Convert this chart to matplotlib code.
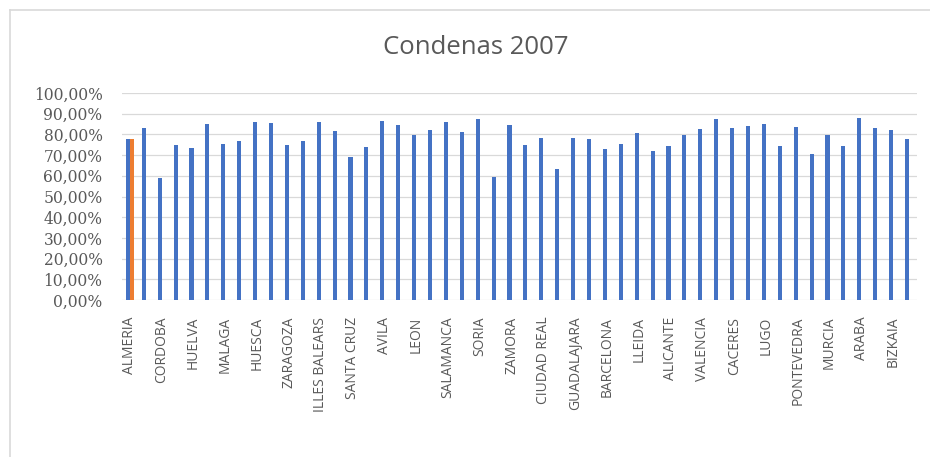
import matplotlib
matplotlib.use("Agg")
import matplotlib.pyplot as plt
from matplotlib.ticker import FuncFormatter, MultipleLocator
from matplotlib.lines import Line2D

provincias = [
    "ALMERIA", "CADIZ", "CORDOBA", "GRANADA", "HUELVA", "JAEN", "MALAGA", "SEVILLA",
    "HUESCA", "TERUEL", "ZARAGOZA", "ASTURIAS", "ILLES BALEARS", "LAS PALMAS",
    "SANTA CRUZ", "CANTABRIA", "AVILA", "BURGOS", "LEON", "PALENCIA", "SALAMANCA",
    "SEGOVIA", "SORIA", "VALLADOLID", "ZAMORA", "ALBACETE", "CIUDAD REAL", "CUENCA",
    "GUADALAJARA", "TOLEDO", "BARCELONA", "GIRONA", "LLEIDA", "TARRAGONA",
    "ALICANTE", "CASTELLON", "VALENCIA", "BADAJOZ", "CACERES", "A CORUÑA", "LUGO",
    "OURENSE", "PONTEVEDRA", "MADRID", "MURCIA", "NAVARRA", "ARABA", "GIPUZKOA",
    "BIZKAIA", "LA RIOJA",
]

condenas = [
    78.0, 82.9, 58.8, 74.9, 73.3, 84.9, 75.4, 77.0, 86.1, 85.7,
    74.9, 77.0, 86.1, 81.6, 69.2, 73.7, 86.6, 84.5, 79.5, 82.1,
    85.8, 81.2, 87.4, 59.6, 84.5, 74.9, 78.4, 63.3, 78.4, 77.8,
    72.8, 75.4, 80.5, 72.0, 74.4, 79.5, 82.4, 87.4, 82.9, 84.1,
    85.0, 74.4, 83.4, 70.4, 79.5, 74.4, 88.1, 82.9, 82.1, 77.9,
]

destacada = ["ALMERIA"]
destacada_valores = [78.0]

AZUL = "#4472C4"
NARANJA = "#ED7D31"
GRIS_TEXTO = "#595959"
GRIS_REJILLA = "#D9D9D9"

W, H = 930, 457
fig = plt.figure(figsize=(W / 100, H / 100), dpi=100)
fig.patch.set_facecolor("white")

# chart frame: top and left edges of the chart area
fig.add_artist(Line2D([10 / W, 10 / W], [0, 1 - 10 / H], transform=fig.transFigure,
                      color=GRIS_REJILLA, lw=1.2))
fig.add_artist(Line2D([10 / W, 1], [1 - 10 / H, 1 - 10 / H], transform=fig.transFigure,
                      color=GRIS_REJILLA, lw=1.2))

left, right = 122 / W, 917 / W
bottom, top = 1 - 300 / H, 1 - 93 / H
ax = fig.add_axes([left, bottom, right - left, top - bottom])

x = list(range(len(provincias)))
ancho = 0.26
ax.bar([i - ancho / 2 for i in x], condenas, width=ancho, color=AZUL, zorder=3)
idx = [provincias.index(p) for p in destacada]
ax.bar([i + ancho / 2 for i in idx], destacada_valores, width=ancho, color=NARANJA, zorder=3)

ax.set_xlim(-0.5, len(provincias) - 0.5)
ax.set_ylim(0, 100)
ax.yaxis.set_major_locator(MultipleLocator(10))
ax.yaxis.set_major_formatter(FuncFormatter(lambda v, _: f"{v:.2f}%".replace(".", ",")))
ax.grid(axis="y", color=GRIS_REJILLA, lw=0.9, zorder=0)

ax.set_xticks(x)
ax.set_xticklabels([p if i % 2 == 0 else "" for i, p in enumerate(provincias)],
                   rotation=90, fontsize=10, color=GRIS_TEXTO, family="Open Sans")
for lab in ax.get_yticklabels():
    lab.set_family("DejaVu Serif")
ax.tick_params(axis="y", labelsize=11.2, colors=GRIS_TEXTO, length=0, pad=14)
ax.tick_params(axis="x", length=0, pad=12)
for s in ax.spines.values():
    s.set_visible(False)

fig.text(476 / W, 1 - 47 / H, "Condenas 2007", ha="center", va="center",
         fontsize=18.5, color=GRIS_TEXTO, family="Open Sans")

fig.savefig("out.png", dpi=100)
